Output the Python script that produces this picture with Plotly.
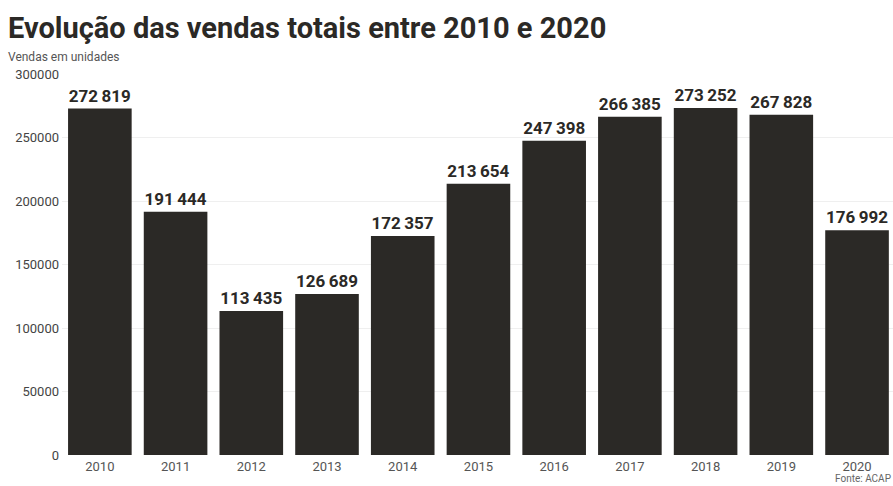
import plotly.graph_objects as go

years = ["2010", "2011", "2012", "2013", "2014", "2015", "2016", "2017", "2018", "2019", "2020"]
sales = [272819, 191444, 113435, 126689, 172357, 213654, 247398, 266385, 273252, 267828, 176992]
labels = [f"{v:,}".replace(",", "\u2009") for v in sales]
y_ticks = [0, 50000, 100000, 150000, 200000, 250000, 300000]

W, H = 893, 486
fig = go.Figure(go.Bar(
    x=years, y=sales, text=labels, textposition="outside",
    marker=dict(color="#2b2926", line=dict(width=0)),
    textfont=dict(family="Roboto", size=17, color="#2b2926", weight="bold"),
    cliponaxis=False,
))
fig.update_layout(
    width=W, height=H,
    margin=dict(l=62, r=0, t=74, b=31),
    paper_bgcolor="white", plot_bgcolor="white",
    bargap=0.16,
    showlegend=False,
    xaxis=dict(range=[-0.5, 10.475], showgrid=False, showline=False, ticks="",
               tickfont=dict(family="Roboto", size=13, color="#555"), ticklabelstandoff=2),
    yaxis=dict(range=[0, 300000], tickvals=y_ticks, ticktext=[str(t) for t in y_ticks],
               showgrid=True, gridcolor="#efefef", gridwidth=1, zeroline=False,
               tickfont=dict(family="Roboto", size=13, color="#444"), ticklabelstandoff=2),
    font=dict(family="Roboto"),
    annotations=[
        dict(text="<b>Evolução das vendas totais entre 2010 e 2020</b>", xref="paper", yref="paper",
             x=-56 / (W - 62), y=1 + 46 / 381, xanchor="left", yanchor="middle", showarrow=False,
             font=dict(family="Roboto", size=29, color="#2b2926")),
        dict(text="Vendas em unidades", xref="paper", yref="paper",
             x=-56 / (W - 62), y=1 + 17 / 381, xanchor="left", yanchor="middle", showarrow=False,
             font=dict(family="Roboto", size=12, color="#555")),
        dict(text="Fonte: ACAP", xref="paper", yref="paper",
             x=1, y=-23 / 381, xanchor="right", yanchor="middle", showarrow=False,
             font=dict(family="Roboto", size=10, color="#666")),
    ],
)
fig.write_html("out.html")
